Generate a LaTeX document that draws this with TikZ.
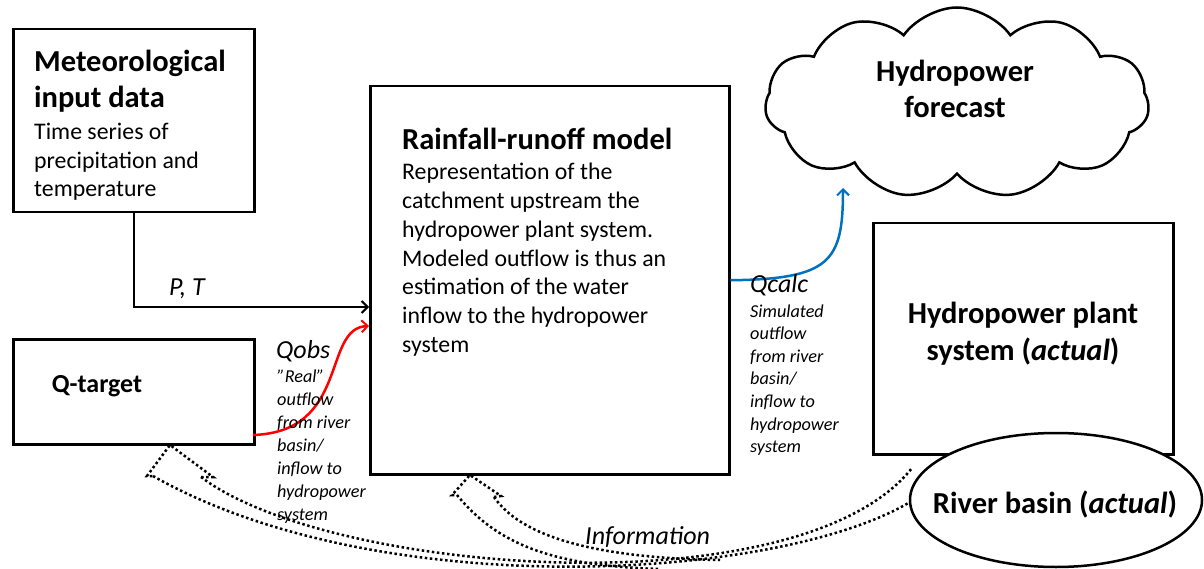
\documentclass[tikz,border=0pt]{standalone}
\usepackage{fontspec}
\setmainfont{Carlito}
\usetikzlibrary{arrows.meta,shapes.symbols,shapes.geometric}
\definecolor{pblue}{RGB}{0,112,192}
\begin{document}
\begin{tikzpicture}[x=1pt,y=-1pt,
  box/.style={draw, line width=2.5pt, rectangle, inner sep=0pt},
  ttl/.style={font=\fontsize{30.5}{36}\selectfont\bfseries, inner sep=0pt},
  bdy/.style={font=\fontsize{23.8}{29}\selectfont, inner sep=0pt},
  sml/.style={font=\fontsize{18.2}{23}\selectfont\itshape, inner sep=0pt},
  lbl/.style={font=\fontsize{26}{30}\selectfont\itshape, inner sep=0pt},
  info/.style={line width=2.5pt, dash pattern=on 2.5pt off 2.6pt},
  conn/.style={line width=2pt},
  tip/.style={-{Straight Barb[length=6pt,width=12pt,line width=2pt]}},
]
\useasboundingbox (0,0) rectangle (1204,569);

% Meteorological input box
\node[box, anchor=north west, minimum width=241pt, minimum height=183pt] (met) at (12,28) {};
\node[ttl, anchor=base west] (metA) at (34,72) {Meteorological};
\node[ttl, anchor=base west] (metB) at (34,108) {input data};
\node[bdy, anchor=base west] (metC) at (34,140) {Time series of};
\node[bdy, anchor=base west] (metD) at (34,168.5) {precipitation and};
\node[bdy, anchor=base west] (metE) at (34,197) {temperature};

% Rainfall-runoff model box
\node[box, anchor=north west, minimum width=359pt, minimum height=388pt] (rr) at (369,85) {};
\node[ttl, anchor=base west] (rrT) at (402,150) {Rainfall-runoff model};
\foreach \t [count=\i] in {{Representation of the},{catchment upstream the},{hydropower plant system.},{Modeled outflow is thus an},{estimation of the water},{inflow to the hydropower},{system}}
  \node[bdy, anchor=base west] (rr\i) at (402,{180+28.7*(\i-1)}) {\t};

% Q-target box
\node[box, anchor=north west, minimum width=241pt, minimum height=105pt] (qt) at (12,338) {};
\node[font=\fontsize{26}{30}\selectfont\bfseries, inner sep=0pt, anchor=base] (qtT) at (97,392) {Q-target};

% Hydropower plant system box
\node[box, anchor=north west, minimum width=300pt, minimum height=231pt] (hp) at (872,222) {};
\node[ttl, anchor=base] (hpA) at (1023,323) {Hydropower plant};
\node[ttl, anchor=base] (hpB) at (1023,360) {system (\textit{actual})};

% River basin ellipse
\node[ellipse, draw, line width=2.5pt, fill=white, minimum width=292pt, minimum height=134pt, inner sep=0pt] (rb) at (1056,500) {};
\node[ttl, anchor=base] (rbT) at (1055,513) {River basin (\textit{actual})};

% Cloud
\node[cloud, draw, line width=2.5pt, cloud puffs=11, cloud puff arc=110, aspect=2, minimum width=384pt, minimum height=191pt, inner sep=0pt] (cl) at (957,103) {};
\node[ttl, anchor=base] (clA) at (955,82) {Hydropower};
\node[ttl, anchor=base] (clB) at (955,118) {forecast};

% P, T arrow
\coordinate (pin) at (369,307);
\draw[conn, tip] (met.south) |- (pin);
\node[lbl, anchor=base west] (pt) at (169,295) {P, T};

% Qobs arrow (red)
\coordinate (qo) at (253,435);
\coordinate (qi) at (369,326);
\draw[conn, red, line width=2.5pt, tip] (qo) .. controls (350,432) and (322,328) .. (qi);
\node[lbl, anchor=base west] (qobs) at (276,358) {Qobs};
\foreach \t [count=\i] in {{”Real”},{outflow},{from river},{basin/},{inflow to},{hydropower},{system}}
  \node[sml, anchor=base west] (qo\i) at (277,{382+23*(\i-1)}) {\t};

% Qcalc arrow (blue)
\coordinate (cb) at (843,188);
\draw[conn, pblue, line width=2.5pt, tip] (rr.east) .. controls (830,279) and (843,262) .. (cb);
\node[lbl, anchor=base west] (qcalc) at (750,292) {Qcalc};
\foreach \t [count=\i] in {{Simulated},{outflow},{from river},{basin/},{inflow to},{hydropower},{system}}
  \node[sml, anchor=base west] (qc\i) at (750,{317+22.6*(\i-1)}) {\t};

% Information arrows (dotted outlines)
\coordinate (a1) at (201,477);
\coordinate (a2) at (153,476);
\coordinate (b1) at (912,468);
\coordinate (b2) at (910,502);
\draw[info] (a1) .. controls (330,575) and (800,610) .. (b1);
\draw[info] (a2) .. controls (380,605) and (780,580) .. (b2);
\draw[info] (a1) -- (213,477) -- (170,445) -- (147,476) -- (a2);
\coordinate (c1) at (494,497);
\coordinate (c2) at (457,495);
\draw[info] (c1) -- (501,496) -- (470,475) -- (452,495) -- (c2);
\draw[info] (c2) .. controls (500,548) and (560,566) .. (660,569);
\draw[info] (c1) .. controls (520,535) and (590,558) .. (720,560);
\node[lbl, anchor=base west] (infoT) at (585,544) {Information};
\end{tikzpicture}
\end{document}
